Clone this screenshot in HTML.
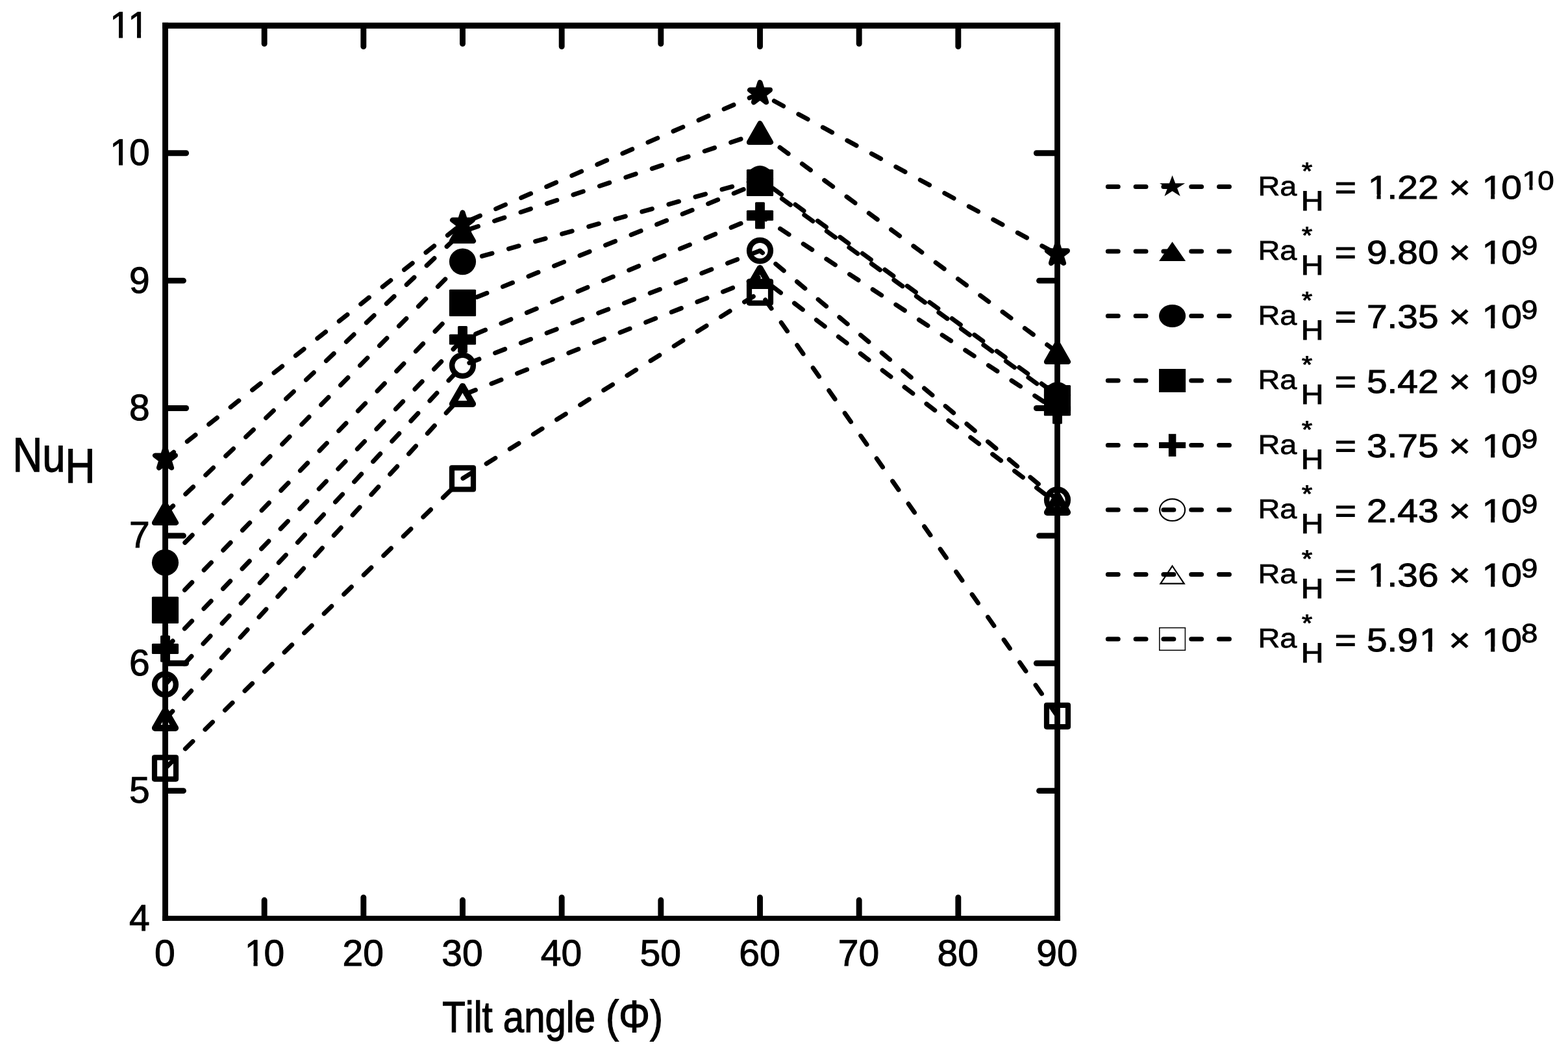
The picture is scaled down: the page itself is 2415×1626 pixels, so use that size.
<!DOCTYPE html>
<html><head><meta charset="utf-8"><title>NuH vs Tilt angle</title>
<style>
html,body{margin:0;padding:0;background:#fff;}
body{width:2415px;height:1626px;overflow:hidden;}
svg{display:block;}
text{font-family:"Liberation Sans",Arial,Helvetica,sans-serif;fill:#000;font-kerning:none;text-rendering:geometricPrecision;}
</style></head><body>
<svg width="2415" height="1626" viewBox="0 0 2415 1626">
<rect x="0" y="0" width="2415" height="1626" fill="#fff"/>

<g fill="#000">
<rect x="250.1" y="34.8" width="8.90" height="1383.10"/>
<rect x="1624.1" y="34.8" width="8.80" height="1383.10"/>
<rect x="250.1" y="34.8" width="1382.80" height="9.25"/>
<rect x="250.1" y="1410.1" width="1382.80" height="7.80"/>
</g>
<g stroke="#000" stroke-width="8.9" stroke-linecap="round" fill="none">
<line x1="407.17" y1="41.4" x2="407.17" y2="67.35"/>
<line x1="407.17" y1="1412.0" x2="407.17" y2="1386.05"/>
<line x1="559.83" y1="41.4" x2="559.83" y2="71.55"/>
<line x1="559.83" y1="1412.0" x2="559.83" y2="1381.85"/>
<line x1="712.50" y1="41.4" x2="712.50" y2="67.35"/>
<line x1="712.50" y1="1412.0" x2="712.50" y2="1386.05"/>
<line x1="865.17" y1="41.4" x2="865.17" y2="71.55"/>
<line x1="865.17" y1="1412.0" x2="865.17" y2="1381.85"/>
<line x1="1017.83" y1="41.4" x2="1017.83" y2="67.35"/>
<line x1="1017.83" y1="1412.0" x2="1017.83" y2="1386.05"/>
<line x1="1170.50" y1="41.4" x2="1170.50" y2="71.55"/>
<line x1="1170.50" y1="1412.0" x2="1170.50" y2="1381.85"/>
<line x1="1323.17" y1="41.4" x2="1323.17" y2="67.35"/>
<line x1="1323.17" y1="1412.0" x2="1323.17" y2="1386.05"/>
<line x1="1475.83" y1="41.4" x2="1475.83" y2="71.55"/>
<line x1="1475.83" y1="1412.0" x2="1475.83" y2="1381.85"/>
<line x1="256.5" y1="1217.63" x2="282.45" y2="1217.63"/>
<line x1="1626.5" y1="1217.63" x2="1600.55" y2="1217.63"/>
<line x1="256.5" y1="1021.26" x2="286.65" y2="1021.26"/>
<line x1="1626.5" y1="1021.26" x2="1596.35" y2="1021.26"/>
<line x1="256.5" y1="824.89" x2="282.45" y2="824.89"/>
<line x1="1626.5" y1="824.89" x2="1600.55" y2="824.89"/>
<line x1="256.5" y1="628.51" x2="286.65" y2="628.51"/>
<line x1="1626.5" y1="628.51" x2="1596.35" y2="628.51"/>
<line x1="256.5" y1="432.14" x2="282.45" y2="432.14"/>
<line x1="1626.5" y1="432.14" x2="1600.55" y2="432.14"/>
<line x1="256.5" y1="235.77" x2="286.65" y2="235.77"/>
<line x1="1626.5" y1="235.77" x2="1596.35" y2="235.77"/>
</g>
<g>
<text transform="matrix(1.0000 0 0 1 0 0)" stroke="#000" vector-effect="non-scaling-stroke" xml:space="preserve"><tspan x="199.00" y="1432.50" font-size="57.00" stroke-width="1.0">4</tspan></text>
<text transform="matrix(1.0000 0 0 1 0 0)" stroke="#000" vector-effect="non-scaling-stroke" xml:space="preserve"><tspan x="199.00" y="1236.13" font-size="57.00" stroke-width="1.0">5</tspan></text>
<text transform="matrix(1.0000 0 0 1 0 0)" stroke="#000" vector-effect="non-scaling-stroke" xml:space="preserve"><tspan x="199.00" y="1039.76" font-size="57.00" stroke-width="1.0">6</tspan></text>
<text transform="matrix(1.0000 0 0 1 0 0)" stroke="#000" vector-effect="non-scaling-stroke" xml:space="preserve"><tspan x="199.00" y="843.39" font-size="57.00" stroke-width="1.0">7</tspan></text>
<text transform="matrix(1.0000 0 0 1 0 0)" stroke="#000" vector-effect="non-scaling-stroke" xml:space="preserve"><tspan x="199.00" y="647.01" font-size="57.00" stroke-width="1.0">8</tspan></text>
<text transform="matrix(1.0000 0 0 1 0 0)" stroke="#000" vector-effect="non-scaling-stroke" xml:space="preserve"><tspan x="199.00" y="450.64" font-size="57.00" stroke-width="1.0">9</tspan></text>
<clipPath id="c1" clipPathUnits="userSpaceOnUse"><path clip-rule="evenodd" d="M-100 -100H4000V3000H-100ZM171.51 246.50h11.47v11.27h-11.47ZM189.06 246.50h11.02v11.27h-11.02Z"/></clipPath><text transform="matrix(1.0000 0 0 1 0 0)" stroke="#000" vector-effect="non-scaling-stroke" xml:space="preserve" clip-path="url(#c1)"><tspan x="167.30" y="254.27" font-size="57.00" stroke-width="1.0" dx="1.88 -1.88">10</tspan></text>
<clipPath id="c2" clipPathUnits="userSpaceOnUse"><path clip-rule="evenodd" d="M-100 -100H4000V3000H-100ZM171.51 50.12h11.47v11.27h-11.47ZM189.06 50.12h11.02v11.27h-11.02ZM199.51 50.12h11.47v11.27h-11.47ZM217.06 50.12h11.02v11.27h-11.02Z"/></clipPath><text transform="matrix(1.0000 0 0 1 0 0)" stroke="#000" vector-effect="non-scaling-stroke" xml:space="preserve" clip-path="url(#c2)"><tspan x="167.30" y="57.90" font-size="57.00" stroke-width="1.0" letter-spacing="-3.70" dx="1.88 0.00">11</tspan></text>
<text transform="matrix(1.0000 0 0 1 0 0)" stroke="#000" vector-effect="non-scaling-stroke" xml:space="preserve"><tspan x="238.05" y="1487.20" font-size="57.00" stroke-width="1.0">0</tspan></text>
<clipPath id="c3" clipPathUnits="userSpaceOnUse"><path clip-rule="evenodd" d="M-100 -100H4000V3000H-100ZM379.08 1479.42h11.47v11.27h-11.47ZM396.63 1479.42h11.02v11.27h-11.02Z"/></clipPath><text transform="matrix(1.0000 0 0 1 0 0)" stroke="#000" vector-effect="non-scaling-stroke" xml:space="preserve" clip-path="url(#c3)"><tspan x="374.87" y="1487.20" font-size="57.00" stroke-width="1.0" dx="1.88 -1.88">10</tspan></text>
<text transform="matrix(1.0000 0 0 1 0 0)" stroke="#000" vector-effect="non-scaling-stroke" xml:space="preserve"><tspan x="527.53" y="1487.20" font-size="57.00" stroke-width="1.0">20</tspan></text>
<text transform="matrix(1.0000 0 0 1 0 0)" stroke="#000" vector-effect="non-scaling-stroke" xml:space="preserve"><tspan x="680.20" y="1487.20" font-size="57.00" stroke-width="1.0">30</tspan></text>
<text transform="matrix(1.0000 0 0 1 0 0)" stroke="#000" vector-effect="non-scaling-stroke" xml:space="preserve"><tspan x="832.87" y="1487.20" font-size="57.00" stroke-width="1.0">40</tspan></text>
<text transform="matrix(1.0000 0 0 1 0 0)" stroke="#000" vector-effect="non-scaling-stroke" xml:space="preserve"><tspan x="985.53" y="1487.20" font-size="57.00" stroke-width="1.0">50</tspan></text>
<text transform="matrix(1.0000 0 0 1 0 0)" stroke="#000" vector-effect="non-scaling-stroke" xml:space="preserve"><tspan x="1138.20" y="1487.20" font-size="57.00" stroke-width="1.0">60</tspan></text>
<text transform="matrix(1.0000 0 0 1 0 0)" stroke="#000" vector-effect="non-scaling-stroke" xml:space="preserve"><tspan x="1290.87" y="1487.20" font-size="57.00" stroke-width="1.0">70</tspan></text>
<text transform="matrix(1.0000 0 0 1 0 0)" stroke="#000" vector-effect="non-scaling-stroke" xml:space="preserve"><tspan x="1443.53" y="1487.20" font-size="57.00" stroke-width="1.0">80</tspan></text>
<text transform="matrix(1.0000 0 0 1 0 0)" stroke="#000" vector-effect="non-scaling-stroke" xml:space="preserve"><tspan x="1596.20" y="1487.20" font-size="57.00" stroke-width="1.0">90</tspan></text>
</g>
<text transform="matrix(0.8669 0 0 1 0 0)" stroke="#000" vector-effect="non-scaling-stroke" xml:space="preserve"><tspan x="785.92" y="1589.25" font-size="67.00" stroke-width="1.3">Tilt angle </tspan><tspan x="1076.11" y="1589.25" font-size="69.39" stroke-width="1.3">(Φ)</tspan></text>
<text transform="matrix(0.8518 0 0 1 0 0)" stroke="#000" vector-effect="non-scaling-stroke" xml:space="preserve"><tspan x="22.83" y="726.25" font-size="74.50" stroke-width="1.3">Nu</tspan><tspan x="118.01" y="742.65" font-size="74.82" stroke-width="1.3">H</tspan></text>
<g>
<path d="M254.50 689.85 L258.16 701.42 L270.00 701.42 L260.42 708.58 L264.08 720.15 L254.50 713.00 L244.92 720.15 L248.58 708.58 L239.00 701.42 L250.84 701.42 Z" fill="#000" stroke="#000" stroke-width="8.0" stroke-linejoin="round"/>
<path d="M712.50 327.25 L716.16 338.82 L728.00 338.82 L718.42 345.98 L722.08 357.55 L712.50 350.40 L702.92 357.55 L706.58 345.98 L697.00 338.82 L708.84 338.82 Z" fill="#000" stroke="#000" stroke-width="8.0" stroke-linejoin="round"/>
<path d="M1170.50 126.95 L1174.16 138.52 L1186.00 138.52 L1176.42 145.68 L1180.08 157.25 L1170.50 150.10 L1160.92 157.25 L1164.58 145.68 L1155.00 138.52 L1166.84 138.52 Z" fill="#000" stroke="#000" stroke-width="8.0" stroke-linejoin="round"/>
<path d="M1628.50 374.75 L1632.16 386.32 L1644.00 386.32 L1634.42 393.48 L1638.08 405.05 L1628.50 397.90 L1618.92 405.05 L1622.58 393.48 L1613.00 386.32 L1624.84 386.32 Z" fill="#000" stroke="#000" stroke-width="8.0" stroke-linejoin="round"/>
<path d="M254.50 775.90 L271.10 804.90 L237.90 804.90 Z" fill="#000" stroke="#000" stroke-width="8.0" stroke-linejoin="round"/>
<path d="M712.50 342.00 L729.10 371.00 L695.90 371.00 Z" fill="#000" stroke="#000" stroke-width="8.0" stroke-linejoin="round"/>
<path d="M1170.50 189.90 L1187.10 218.90 L1153.90 218.90 Z" fill="#000" stroke="#000" stroke-width="8.0" stroke-linejoin="round"/>
<path d="M1628.50 528.00 L1645.10 557.00 L1611.90 557.00 Z" fill="#000" stroke="#000" stroke-width="8.0" stroke-linejoin="round"/>
<ellipse cx="254.50" cy="866.20" rx="20.6" ry="20.4" fill="#000"/>
<ellipse cx="712.50" cy="402.80" rx="20.6" ry="20.4" fill="#000"/>
<ellipse cx="1170.50" cy="275.50" rx="20.6" ry="20.4" fill="#000"/>
<ellipse cx="1628.50" cy="608.50" rx="20.6" ry="20.4" fill="#000"/>
<rect x="233.90" y="918.80" width="41.2" height="41.2" rx="1.5" fill="#000"/>
<rect x="691.90" y="445.80" width="41.2" height="41.2" rx="1.5" fill="#000"/>
<rect x="1149.90" y="260.80" width="41.2" height="41.2" rx="1.5" fill="#000"/>
<rect x="1607.90" y="593.00" width="41.2" height="41.2" rx="1.5" fill="#000"/>
<rect x="233.90" y="991.00" width="41.2" height="16.0" rx="1.5" fill="#000"/><rect x="247.05" y="978.40" width="14.9" height="41.2" rx="1.5" fill="#000"/>
<rect x="691.90" y="514.70" width="41.2" height="16.0" rx="1.5" fill="#000"/><rect x="705.05" y="502.10" width="14.9" height="41.2" rx="1.5" fill="#000"/>
<rect x="1149.90" y="323.80" width="41.2" height="16.0" rx="1.5" fill="#000"/><rect x="1163.05" y="311.20" width="14.9" height="41.2" rx="1.5" fill="#000"/>
<rect x="1607.90" y="624.20" width="41.2" height="16.0" rx="1.5" fill="#000"/><rect x="1621.05" y="611.60" width="14.9" height="41.2" rx="1.5" fill="#000"/>
<ellipse cx="254.50" cy="1053.90" rx="16.35" ry="16.15" fill="none" stroke="#000" stroke-width="8.5"/>
<ellipse cx="712.50" cy="562.80" rx="16.35" ry="16.15" fill="none" stroke="#000" stroke-width="8.5"/>
<ellipse cx="1170.50" cy="386.00" rx="16.35" ry="16.15" fill="none" stroke="#000" stroke-width="8.5"/>
<ellipse cx="1628.50" cy="769.70" rx="16.35" ry="16.15" fill="none" stroke="#000" stroke-width="8.5"/>
<path d="M254.50 1094.00 L270.10 1121.00 L238.90 1121.00 Z" fill="none" stroke="#000" stroke-width="10.0" stroke-linejoin="round"/>
<path d="M712.50 594.90 L728.10 621.90 L696.90 621.90 Z" fill="none" stroke="#000" stroke-width="10.0" stroke-linejoin="round"/>
<path d="M1170.50 413.00 L1186.10 440.00 L1154.90 440.00 Z" fill="none" stroke="#000" stroke-width="10.0" stroke-linejoin="round"/>
<path d="M1628.50 761.90 L1644.10 788.90 L1612.90 788.90 Z" fill="none" stroke="#000" stroke-width="10.0" stroke-linejoin="round"/>
<rect x="238.00" y="1166.40" width="33.0" height="33.2" fill="none" stroke="#000" stroke-width="8.2" stroke-linejoin="round"/>
<rect x="696.00" y="720.30" width="33.0" height="33.2" fill="none" stroke="#000" stroke-width="8.2" stroke-linejoin="round"/>
<rect x="1154.00" y="433.40" width="33.0" height="33.2" fill="none" stroke="#000" stroke-width="8.2" stroke-linejoin="round"/>
<rect x="1612.00" y="1085.90" width="33.0" height="33.2" fill="none" stroke="#000" stroke-width="8.2" stroke-linejoin="round"/>
</g>
<g fill="none" stroke="#000" stroke-width="7.0" stroke-linecap="round" stroke-linejoin="round" stroke-dasharray="16.2 26.430000000000003" stroke-dashoffset="-0.5">
<polyline points="254.50,706.60 712.50,344.00 1170.50,143.70 1628.50,391.50"/>
<polyline points="254.50,790.40 712.50,356.50 1170.50,204.40 1628.50,542.50"/>
<polyline points="254.50,866.20 712.50,402.80 1170.50,275.50 1628.50,608.50"/>
<polyline points="254.50,939.40 712.50,466.40 1170.50,281.40 1628.50,613.60"/>
<polyline points="254.50,999.00 712.50,522.70 1170.50,331.80 1628.50,632.20"/>
<polyline points="254.50,1053.90 712.50,562.80 1170.50,386.00 1628.50,769.70"/>
<polyline points="254.50,1107.50 712.50,608.40 1170.50,426.50 1628.50,775.40"/>
<polyline points="254.50,1183.00 712.50,736.90 1170.50,450.00 1628.50,1102.50"/>
</g>
<g fill="none" stroke="#000" stroke-width="7.1" stroke-linecap="round" stroke-dasharray="15.8 27.0">
<line x1="1706.4" y1="287.50" x2="1893.40" y2="287.50"/>
<line x1="1706.4" y1="387.00" x2="1893.40" y2="387.00"/>
<line x1="1706.4" y1="486.50" x2="1893.40" y2="486.50"/>
<line x1="1706.4" y1="586.00" x2="1893.40" y2="586.00"/>
<line x1="1706.4" y1="685.50" x2="1893.40" y2="685.50"/>
<line x1="1706.4" y1="785.00" x2="1893.40" y2="785.00"/>
<line x1="1706.4" y1="884.50" x2="1893.40" y2="884.50"/>
<line x1="1706.4" y1="984.00" x2="1893.40" y2="984.00"/>
</g>
<g>
<path d="M1805.60 270.00 L1810.23 282.18 L1825.20 282.18 L1813.09 289.72 L1817.71 301.90 L1805.60 294.37 L1793.49 301.90 L1798.11 289.72 L1786.00 282.18 L1800.97 282.18 Z" fill="#000"/>
<path d="M1805.6 372.30 L1826.1499999999999 402.10 L1785.05 402.10 Z" fill="#000"/>
<ellipse cx="1805.6" cy="486.50" rx="20.55" ry="17.6" fill="#000"/>
<rect x="1785.05" y="568.00" width="41.1" height="36" fill="#000"/>
<rect x="1785.05" y="680.90" width="41.1" height="9.2" fill="#000"/><rect x="1799.85" y="668.20" width="11.5" height="34.7" fill="#000"/>
<ellipse cx="1805.6" cy="785.20" rx="19.5" ry="16.849999999999998" fill="none" stroke="#000" stroke-width="2.1"/>
<path d="M1805.6 871.50 L1823.7499999999998 898.70 L1787.45 898.70 Z" fill="none" stroke="#000" stroke-width="2.2" stroke-linejoin="miter"/>
<rect x="1785.8" y="966.65" width="39.6" height="34.6" fill="none" stroke="#000" stroke-width="1.5"/>
</g>
<g>
<clipPath id="c4" clipPathUnits="userSpaceOnUse"><path clip-rule="evenodd" d="M-100 -100H4000V3000H-100ZM1883.09 298.99h10.23v10.81h-10.23ZM1898.73 298.99h9.82v10.81h-9.82ZM2039.86 298.99h10.23v10.81h-10.23ZM2055.50 298.99h9.82v10.81h-9.82ZM2094.72 285.79h8.35v9.86h-8.35ZM2107.50 285.79h8.02v9.86h-8.02Z"/></clipPath><text transform="matrix(1.1200 0 0 1 0 0)" stroke="#000" vector-effect="non-scaling-stroke" xml:space="preserve" clip-path="url(#c4)"><tspan x="1729.91" y="300.95" font-size="41.87" stroke-width="0.7">Ra</tspan><tspan x="1790.11" y="275.80" font-size="37.22" stroke-width="1.0">*</tspan><tspan x="1788.97" y="323.70" font-size="43.00" stroke-width="1.0">H</tspan><tspan x="1821.44" y="306.30" font-size="50.80" stroke-width="1.0" dx="0.00 0.00 0.00 1.68 -1.68 0.00 0.00 0.00 0.00 0.00 1.68 -1.68"> = 1.22 × 10</tspan><tspan x="2091.88" y="292.25" font-size="40.80" stroke-width="0.9" dx="1.35 -1.35">10</tspan></text>
<clipPath id="c5" clipPathUnits="userSpaceOnUse"><path clip-rule="evenodd" d="M-100 -100H4000V3000H-100ZM2039.86 398.49h10.23v10.81h-10.23ZM2055.50 398.49h9.82v10.81h-9.82Z"/></clipPath><text transform="matrix(1.1200 0 0 1 0 0)" stroke="#000" vector-effect="non-scaling-stroke" xml:space="preserve" clip-path="url(#c5)"><tspan x="1729.91" y="400.45" font-size="41.87" stroke-width="0.7">Ra</tspan><tspan x="1790.11" y="375.30" font-size="37.22" stroke-width="1.0">*</tspan><tspan x="1788.97" y="423.20" font-size="43.00" stroke-width="1.0">H</tspan><tspan x="1821.44" y="405.80" font-size="50.80" stroke-width="1.0" dx="0.00 0.00 0.00 0.00 0.00 0.00 0.00 0.00 0.00 0.00 1.68 -1.68"> = 9.80 × 10</tspan><tspan x="2091.88" y="391.75" font-size="40.80" stroke-width="0.9">9</tspan></text>
<clipPath id="c6" clipPathUnits="userSpaceOnUse"><path clip-rule="evenodd" d="M-100 -100H4000V3000H-100ZM2039.86 497.99h10.23v10.81h-10.23ZM2055.50 497.99h9.82v10.81h-9.82Z"/></clipPath><text transform="matrix(1.1200 0 0 1 0 0)" stroke="#000" vector-effect="non-scaling-stroke" xml:space="preserve" clip-path="url(#c6)"><tspan x="1729.91" y="499.95" font-size="41.87" stroke-width="0.7">Ra</tspan><tspan x="1790.11" y="474.80" font-size="37.22" stroke-width="1.0">*</tspan><tspan x="1788.97" y="522.70" font-size="43.00" stroke-width="1.0">H</tspan><tspan x="1821.44" y="505.30" font-size="50.80" stroke-width="1.0" dx="0.00 0.00 0.00 0.00 0.00 0.00 0.00 0.00 0.00 0.00 1.68 -1.68"> = 7.35 × 10</tspan><tspan x="2091.88" y="491.25" font-size="40.80" stroke-width="0.9">9</tspan></text>
<clipPath id="c7" clipPathUnits="userSpaceOnUse"><path clip-rule="evenodd" d="M-100 -100H4000V3000H-100ZM2039.86 597.49h10.23v10.81h-10.23ZM2055.50 597.49h9.82v10.81h-9.82Z"/></clipPath><text transform="matrix(1.1200 0 0 1 0 0)" stroke="#000" vector-effect="non-scaling-stroke" xml:space="preserve" clip-path="url(#c7)"><tspan x="1729.91" y="599.45" font-size="41.87" stroke-width="0.7">Ra</tspan><tspan x="1790.11" y="574.30" font-size="37.22" stroke-width="1.0">*</tspan><tspan x="1788.97" y="622.20" font-size="43.00" stroke-width="1.0">H</tspan><tspan x="1821.44" y="604.80" font-size="50.80" stroke-width="1.0" dx="0.00 0.00 0.00 0.00 0.00 0.00 0.00 0.00 0.00 0.00 1.68 -1.68"> = 5.42 × 10</tspan><tspan x="2091.88" y="590.75" font-size="40.80" stroke-width="0.9">9</tspan></text>
<clipPath id="c8" clipPathUnits="userSpaceOnUse"><path clip-rule="evenodd" d="M-100 -100H4000V3000H-100ZM2039.86 696.99h10.23v10.81h-10.23ZM2055.50 696.99h9.82v10.81h-9.82Z"/></clipPath><text transform="matrix(1.1200 0 0 1 0 0)" stroke="#000" vector-effect="non-scaling-stroke" xml:space="preserve" clip-path="url(#c8)"><tspan x="1729.91" y="698.95" font-size="41.87" stroke-width="0.7">Ra</tspan><tspan x="1790.11" y="673.80" font-size="37.22" stroke-width="1.0">*</tspan><tspan x="1788.97" y="721.70" font-size="43.00" stroke-width="1.0">H</tspan><tspan x="1821.44" y="704.30" font-size="50.80" stroke-width="1.0" dx="0.00 0.00 0.00 0.00 0.00 0.00 0.00 0.00 0.00 0.00 1.68 -1.68"> = 3.75 × 10</tspan><tspan x="2091.88" y="690.25" font-size="40.80" stroke-width="0.9">9</tspan></text>
<clipPath id="c9" clipPathUnits="userSpaceOnUse"><path clip-rule="evenodd" d="M-100 -100H4000V3000H-100ZM2039.86 796.49h10.23v10.81h-10.23ZM2055.50 796.49h9.82v10.81h-9.82Z"/></clipPath><text transform="matrix(1.1200 0 0 1 0 0)" stroke="#000" vector-effect="non-scaling-stroke" xml:space="preserve" clip-path="url(#c9)"><tspan x="1729.91" y="798.45" font-size="41.87" stroke-width="0.7">Ra</tspan><tspan x="1790.11" y="773.30" font-size="37.22" stroke-width="1.0">*</tspan><tspan x="1788.97" y="821.20" font-size="43.00" stroke-width="1.0">H</tspan><tspan x="1821.44" y="803.80" font-size="50.80" stroke-width="1.0" dx="0.00 0.00 0.00 0.00 0.00 0.00 0.00 0.00 0.00 0.00 1.68 -1.68"> = 2.43 × 10</tspan><tspan x="2091.88" y="789.75" font-size="40.80" stroke-width="0.9">9</tspan></text>
<clipPath id="c10" clipPathUnits="userSpaceOnUse"><path clip-rule="evenodd" d="M-100 -100H4000V3000H-100ZM1883.09 895.99h10.23v10.81h-10.23ZM1898.73 895.99h9.82v10.81h-9.82ZM2039.86 895.99h10.23v10.81h-10.23ZM2055.50 895.99h9.82v10.81h-9.82Z"/></clipPath><text transform="matrix(1.1200 0 0 1 0 0)" stroke="#000" vector-effect="non-scaling-stroke" xml:space="preserve" clip-path="url(#c10)"><tspan x="1729.91" y="897.95" font-size="41.87" stroke-width="0.7">Ra</tspan><tspan x="1790.11" y="872.80" font-size="37.22" stroke-width="1.0">*</tspan><tspan x="1788.97" y="920.70" font-size="43.00" stroke-width="1.0">H</tspan><tspan x="1821.44" y="903.30" font-size="50.80" stroke-width="1.0" dx="0.00 0.00 0.00 1.68 -1.68 0.00 0.00 0.00 0.00 0.00 1.68 -1.68"> = 1.36 × 10</tspan><tspan x="2091.88" y="889.25" font-size="40.80" stroke-width="0.9">9</tspan></text>
<clipPath id="c11" clipPathUnits="userSpaceOnUse"><path clip-rule="evenodd" d="M-100 -100H4000V3000H-100ZM1953.71 995.49h10.23v10.81h-10.23ZM1969.35 995.49h9.82v10.81h-9.82ZM2039.86 995.49h10.23v10.81h-10.23ZM2055.50 995.49h9.82v10.81h-9.82Z"/></clipPath><text transform="matrix(1.1200 0 0 1 0 0)" stroke="#000" vector-effect="non-scaling-stroke" xml:space="preserve" clip-path="url(#c11)"><tspan x="1729.91" y="997.45" font-size="41.87" stroke-width="0.7">Ra</tspan><tspan x="1790.11" y="972.30" font-size="37.22" stroke-width="1.0">*</tspan><tspan x="1788.97" y="1020.20" font-size="43.00" stroke-width="1.0">H</tspan><tspan x="1821.44" y="1002.80" font-size="50.80" stroke-width="1.0" dx="0.00 0.00 0.00 0.00 0.00 0.00 1.68 -1.68 0.00 0.00 1.68 -1.68"> = 5.91 × 10</tspan><tspan x="2091.88" y="988.75" font-size="40.80" stroke-width="0.9">8</tspan></text>
</g>
</svg>
</body></html>
